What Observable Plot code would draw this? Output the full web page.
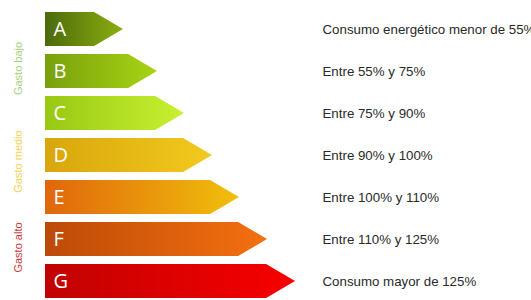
<!DOCTYPE html>
<html><head><meta charset="utf-8">
<script src="https://cdn.jsdelivr.net/npm/d3@7"></script>
<script src="https://cdn.jsdelivr.net/npm/@observablehq/plot@0.6"></script>
<style>
html,body{margin:0;padding:0;background:#fff;overflow:hidden;}
#chart svg{display:block;}
</style>
</head><body><div id="chart"></div>
<script>
const categories = ["A", "B", "C", "D", "E", "F", "G"];
const lengths = [78, 112, 139, 167, 194, 222, 250];
const descriptions = [
  "Consumo energético menor de 55%",
  "Entre 55% y 75%",
  "Entre 75% y 90%",
  "Entre 90% y 100%",
  "Entre 100% y 110%",
  "Entre 110% y 125%",
  "Consumo mayor de 125%"
];
const colorsStart = ["#4b6a0c", "#78a00c", "#98c814", "#d8a60c", "#e0660c", "#bc4a08", "#c00202"];
const colorsEnd   = ["#8cae10", "#a8d414", "#c8f030", "#f2ca1e", "#f0c00c", "#f47010", "#f80000"];
const groupLabels  = ["Gasto bajo", "Gasto medio", "Gasto alto"];
const groupAnchors = ["B", "D", "F"];
const groupColors  = ["#a6d27e", "#f4d256", "#c83a3a"];

const data = categories.map((c, i) => ({cat: c, len: lengths[i], desc: descriptions[i], c0: colorsStart[i], c1: colorsEnd[i]}));
const groups = groupLabels.map((g, i) => ({label: g, anchor: groupAnchors[i], color: groupColors[i]}));

function arrowRender(index, scales, values, dimensions, context) {
  const ys = scales.y;
  let bw = typeof ys.bandwidth === "function" ? ys.bandwidth() : ys.bandwidth;
  if (bw == null && scales.scales && scales.scales.y) bw = scales.scales.y.bandwidth;
  const g = d3.create("svg:g");
  const defs = g.append("defs");
  for (const i of index) {
    const id = "energyGrad" + i;
    const lg = defs.append("linearGradient").attr("id", id)
      .attr("x1", 0).attr("x2", 1).attr("y1", 0).attr("y2", 0);
    lg.append("stop").attr("offset", 0).attr("stop-color", data[i].c0);
    lg.append("stop").attr("offset", 1).attr("stop-color", data[i].c1);
    const x1 = values.x1[i], x2 = values.x2[i], y = values.y[i];
    const tip = bw * 0.85;
    const p = d3.path();
    p.moveTo(x1, y);
    p.lineTo(x2 - tip, y);
    p.lineTo(x2, y + bw / 2);
    p.lineTo(x2 - tip, y + bw);
    p.lineTo(x1, y + bw);
    p.closePath();
    g.append("path").attr("d", p.toString()).attr("fill", `url(#${id})`);
  }
  return g.node();
}

const groupMark = (i, dy) => Plot.text([groups[i]], {
  y: "anchor", text: "label", fill: "color", frameAnchor: "left", textAnchor: "middle",
  dx: -27, dy, rotate: -90, fontSize: 11, fontFamily: "Liberation Sans, Arial, sans-serif"
});

const chart = Plot.plot({
  width: 531,
  height: 300,
  marginLeft: 45,
  marginRight: 0,
  marginTop: 11,
  marginBottom: 1,
  style: {background: "white", fontFamily: "Liberation Sans, Arial, sans-serif"},
  x: {domain: [0, 486], axis: null},
  y: {domain: categories, axis: null, paddingInner: 0.2, paddingOuter: 0},
  color: {type: "identity"},
  marks: [
    Plot.barX(data, {x: "len", y: "cat", render: arrowRender}),
    Plot.text(data, {y: "cat", text: "cat", frameAnchor: "left", dx: 8, textAnchor: "start",
      fill: "white", fontSize: 20, fontFamily: "Open Sans, sans-serif"}),
    Plot.text(data, {y: "cat", text: "desc", frameAnchor: "left", dx: 277, textAnchor: "start",
      fill: "#2a2a2a", fontSize: 13.3}),
    groupMark(0, -3),
    groupMark(1, 6),
    groupMark(2, 8)
  ]
});
document.getElementById("chart").appendChild(chart);
</script>
</body></html>
